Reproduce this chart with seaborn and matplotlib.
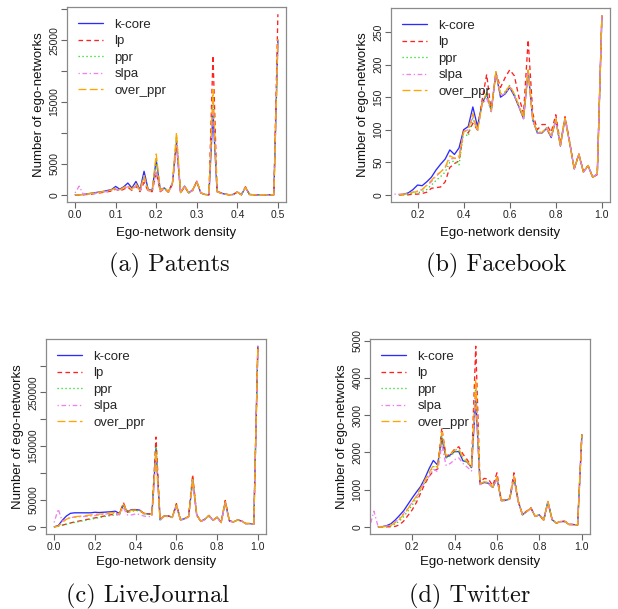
import numpy as np
import pandas as pd
import matplotlib
matplotlib.use("Agg")
import matplotlib.pyplot as plt
import seaborn as sns

sns.set_style("white")
plt.rcParams['font.family'] = ['Liberation Sans', 'DejaVu Sans']
plt.rcParams['axes.unicode_minus'] = False

NA = np.nan
methods = ['k-core', 'lp', 'ppr', 'slpa', 'over_ppr']

# ---------------- (a) Patents ----------------
patents_density = [0.00, 0.01, 0.02, 0.03, 0.04, 0.05, 0.06, 0.07, 0.08, 0.09,
                   0.10, 0.11, 0.12, 0.13, 0.14, 0.15, 0.16, 0.17, 0.18, 0.19,
                   0.20, 0.21, 0.22, 0.23, 0.24, 0.25, 0.26, 0.27, 0.28, 0.29,
                   0.30, 0.31, 0.32, 0.33, 0.34, 0.35, 0.36, 0.37, 0.38, 0.39,
                   0.40, 0.41, 0.42, 0.43, 0.44, 0.45, 0.46, 0.47, 0.48, 0.49,
                   0.50]
patents_kcore = [0, 0, 50, 150, 250, 350, 450, 550, 700, 850,
                 1350, 900, 1300, 1900, 1100, 2150, 800, 3800, 900, 700,
                 5700, 800, 1100, 500, 1900, 8400, 400, 1400, 300, 800,
                 2100, 300, 50, 0, 13300, 500, 250, 100, 0, 50,
                 450, 0, 1200, 50, 0, 0, 0, 0, 0, 0,
                 25000]
patents_lp = [0, 0, 0, 50, 100, 200, 300, 400, 500, 600,
              900, 600, 900, 1200, 700, 1400, 500, 2000, 600, 500,
              3600, 500, 1000, 400, 1700, 8800, 300, 1300, 300, 700,
              2200, 300, 50, 0, 22500, 600, 300, 100, 0, 50,
              450, 0, 1300, 50, 0, 0, 0, 0, 0, 0,
              29200]
patents_ppr = [0, 0, 20, 100, 200, 300, 400, 500, 600, 700,
               1000, 700, 1100, 1400, 800, 1700, 600, 3000, 700, 600,
               5400, 700, 1100, 450, 1800, 9500, 350, 1400, 300, 800,
               2100, 300, 50, 0, 16000, 500, 250, 100, 0, 50,
               450, 0, 1200, 50, 0, 0, 0, 0, 0, 0,
               25000]
patents_slpa = [300, 1400, 100, 100, 150, 250, 350, 450, 550, 650,
                950, 650, 1000, 1300, 750, 1500, 550, 2500, 650, 550,
                3700, 600, 1000, 400, 1700, 8000, 300, 1300, 300, 700,
                2100, 300, 50, 0, 15000, 500, 250, 100, 0, 50,
                450, 0, 1200, 50, 0, 0, 0, 0, 0, 0,
                25000]
patents_over_ppr = [0, 0, 30, 120, 220, 320, 420, 520, 650, 800,
                    1100, 800, 1200, 1500, 900, 1800, 700, 3100, 800, 650,
                    6600, 700, 1200, 450, 1900, 10100, 350, 1500, 300, 800,
                    2200, 300, 50, 0, 17000, 500, 250, 100, 0, 50,
                    450, 0, 1200, 50, 0, 0, 0, 0, 0, 0,
                    25200]

# ---------------- (b) Facebook ----------------
facebook_density = [0.10, 0.12, 0.14, 0.16, 0.18, 0.20, 0.22, 0.24, 0.26, 0.28,
                    0.30, 0.32, 0.34, 0.36, 0.38, 0.40, 0.42, 0.44, 0.46, 0.48,
                    0.50, 0.52, 0.54, 0.56, 0.58, 0.60, 0.62, 0.64, 0.66, 0.68,
                    0.70, 0.72, 0.74, 0.76, 0.78, 0.80, 0.82, 0.84, 0.86, 0.88,
                    0.90, 0.92, 0.94, 0.96, 0.98, 1.00]
facebook_kcore = [NA, 0, 1, 3, 8, 15, 14, 20, 27, 38, 47, 55, 69, 62, 72, 100, 105, 135, 105, 140,
                  155, 130, 188, 150, 155, 165, 152, 135, 117, 190, 115, 95, 95, 102, 88, 115,
                  75, 118, 80, 40, 62, 35, 45, 27, 32, 275]
facebook_lp = [NA, 0, 0, 0, 1, 1, 2, 4, 10, 11, 12, 20, 42, 48, 52, 98, 95, 110, 100, 145,
               185, 128, 187, 165, 180, 192, 183, 150, 125, 238, 125, 100, 108, 108, 96, 123,
               78, 120, 82, 40, 63, 36, 45, 27, 31, 276]
facebook_ppr = [NA, 0, 0, 1, 2, 3, 5, 8, 15, 22, 28, 35, 50, 52, 46, 95, 90, 118, 98, 140,
                155, 128, 189, 155, 158, 168, 155, 137, 118, 192, 116, 96, 96, 103, 90, 116,
                76, 118, 80, 40, 62, 35, 45, 27, 32, 276]
facebook_slpa = [1, 1, 1, 2, 4, 6, 8, 14, 20, 28, 35, 42, 55, 56, 60, 97, 100, 120, 98, 138,
                 148, 128, 188, 152, 156, 166, 153, 136, 117, 190, 115, 95, 95, 102, 88, 115,
                 75, 118, 80, 40, 62, 35, 45, 27, 32, 275]
facebook_over_ppr = [NA, 0, 1, 2, 4, 5, 8, 15, 22, 30, 35, 42, 60, 56, 56, 97, 100, 125, 98, 140,
                     157, 130, 189, 155, 158, 168, 155, 137, 118, 192, 116, 96, 96, 103, 90, 116,
                     76, 118, 80, 40, 62, 35, 45, 27, 32, 276]

# ---------------- (c) LiveJournal ----------------
lj_density = [0.00, 0.02, 0.04, 0.06, 0.08, 0.10, 0.12, 0.14, 0.16, 0.18,
              0.20, 0.22, 0.24, 0.26, 0.28, 0.30, 0.32, 0.34, 0.36, 0.38,
              0.40, 0.42, 0.44, 0.46, 0.48, 0.50, 0.52, 0.54, 0.56, 0.58,
              0.60, 0.62, 0.64, 0.66, 0.68, 0.70, 0.72, 0.74, 0.76, 0.78,
              0.80, 0.82, 0.84, 0.86, 0.88, 0.90, 0.92, 0.94, 0.96, 0.98,
              1.00]
lj_kcore = [0, 2000, 12000, 20000, 25000, 26000, 26000, 26000, 26000, 26000,
            27000, 26500, 27000, 27500, 28000, 29000, 25000, 40000, 28000, 32000,
            32000, 31000, 25000, 24000, 23000, 145000, 13000, 20000, 20000, 18000,
            40000, 13000, 15000, 19000, 87000, 22000, 10000, 14000, 21000, 12000,
            18000, 8000, 47000, 11000, 9000, 12500, 11000, 6000, 6000, 5000,
            336000]
lj_lp = [0, 1000, 3000, 5000, 7000, 9000, 10500, 12000, 13500, 15000,
         16500, 18000, 19500, 21000, 22500, 24000, 23000, 45000, 27000, 30000,
         31000, 30000, 25000, 24000, 23000, 167000, 13000, 20000, 20000, 18000,
         43000, 13000, 15000, 19000, 97000, 22000, 10000, 14000, 21000, 12000,
         18000, 8000, 49000, 11000, 9000, 12500, 11000, 6000, 6000, 5000,
         336000]
lj_ppr = [0, 1000, 2500, 4500, 6500, 8000, 9500, 11000, 12500, 14000,
          15500, 17000, 18500, 20000, 21000, 22000, 22000, 40000, 26000, 29000,
          30000, 30000, 24000, 23000, 22000, 150000, 13000, 20000, 20000, 18000,
          41000, 13000, 15000, 19000, 90000, 22000, 10000, 14000, 21000, 12000,
          18000, 8000, 47000, 11000, 9000, 12500, 11000, 6000, 6000, 5000,
          336000]
lj_slpa = [8000, 33000, 10000, 15000, 17000, 18000, 18500, 19000, 19500, 20000,
           21000, 22000, 23000, 24000, 25000, 24000, 22000, 35000, 22000, 22000,
           24000, 23000, 20000, 19000, 19000, 130000, 12000, 19000, 19000, 17000,
           38000, 12000, 14000, 18000, 82000, 21000, 10000, 13000, 20000, 12000,
           17000, 8000, 45000, 10000, 9000, 12000, 11000, 6000, 6000, 5000,
           336000]
lj_over_ppr = [0, 1000, 8000, 14000, 17000, 18500, 19500, 20000, 21000, 22000,
               23000, 23500, 24000, 25000, 26000, 27000, 24000, 42000, 27000, 31000,
               31000, 30000, 25000, 24000, 23000, 140000, 13000, 20000, 20000, 18000,
               40000, 13000, 15000, 19000, 88000, 22000, 10000, 14000, 21000, 12000,
               18000, 8000, 47000, 11000, 9000, 12500, 11000, 6000, 6000, 5000,
               336000]

# ---------------- (d) Twitter ----------------
tw_density = [0.00, 0.02, 0.04, 0.06, 0.08, 0.10, 0.12, 0.14, 0.16, 0.18,
              0.20, 0.22, 0.24, 0.26, 0.28, 0.30, 0.32, 0.34, 0.36, 0.38,
              0.40, 0.42, 0.44, 0.46, 0.48, 0.50, 0.52, 0.54, 0.56, 0.58,
              0.60, 0.62, 0.64, 0.66, 0.68, 0.70, 0.72, 0.74, 0.76, 0.78,
              0.80, 0.82, 0.84, 0.86, 0.88, 0.90, 0.92, 0.94, 0.96, 0.98,
              1.00]
tw_kcore = [NA, NA, 0, 5, 30, 80, 180, 300, 430, 600,
            770, 930, 1080, 1300, 1560, 1780, 1660, 2380, 1860, 1930,
            2020, 2020, 1770, 1740, 1590, 3450, 1150, 1190, 1170, 1055,
            1300, 700, 710, 750, 1320, 680, 320, 410, 500, 280,
            320, 180, 680, 190, 100, 140, 140, 60, 60, 45,
            2470]
tw_lp = [NA, NA, 0, 0, 0, 0, 10, 50, 150, 300,
         450, 650, 900, 1150, 1350, 1500, 1550, 2650, 1900, 1950,
         2080, 2150, 1950, 1800, 1620, 4850, 1200, 1300, 1280, 1100,
         1450, 720, 720, 770, 1450, 700, 340, 420, 510, 280,
         330, 160, 660, 190, 100, 150, 150, 70, 60, 45,
         2480]
tw_ppr = [NA, NA, 0, 0, 5, 20, 80, 150, 270, 420,
          580, 750, 980, 1200, 1420, 1620, 1580, 2450, 1850, 1900,
          2000, 2050, 1800, 1720, 1580, 3800, 1150, 1200, 1180, 1060,
          1320, 700, 710, 750, 1330, 680, 320, 410, 500, 280,
          320, 180, 670, 190, 100, 140, 140, 60, 60, 45,
          2470]
tw_slpa = [0, 420, 0, 0, 20, 60, 130, 230, 360, 500,
           650, 800, 1000, 1200, 1350, 1550, 1480, 2200, 1650, 1700,
           1800, 1850, 1700, 1600, 1500, 3500, 1130, 1180, 1160, 1040,
           1280, 690, 700, 740, 1300, 670, 320, 400, 490, 280,
           320, 180, 650, 190, 100, 140, 140, 60, 60, 45,
           2450]
tw_over_ppr = [NA, NA, 0, 0, 10, 40, 110, 200, 330, 480,
               650, 820, 1030, 1250, 1450, 1650, 1600, 2550, 1900, 1950,
               2050, 2100, 1850, 1750, 1600, 3950, 1160, 1210, 1190, 1070,
               1330, 710, 720, 760, 1350, 690, 330, 410, 500, 280,
               320, 180, 680, 190, 100, 140, 140, 60, 60, 45,
               2480]

# tick values / labels
patents_xticks = [0.0, 0.1, 0.2, 0.3, 0.4, 0.5]
patents_yticks = [0, 5000, 10000, 15000, 20000, 25000, 30000]
patents_ylabels = ['0', '5000', '', '15000', '', '25000', '']
facebook_xticks = [0.2, 0.4, 0.6, 0.8, 1.0]
facebook_yticks = [0, 50, 100, 150, 200, 250]
facebook_ylabels = ['0', '50', '100', '150', '200', '250']
lj_xticks = [0.0, 0.2, 0.4, 0.6, 0.8, 1.0]
lj_yticks = [0, 50000, 100000, 150000, 200000, 250000, 300000]
lj_ylabels = ['0', '50000', '', '150000', '', '250000', '']
tw_xticks = [0.2, 0.4, 0.6, 0.8, 1.0]
tw_yticks = [0, 1000, 2000, 3000, 4000, 5000]
tw_ylabels = ['0', '1000', '2000', '3000', '4000', '5000']

# ---------------- styling ----------------
colors = {'k-core': '#2b2bff', 'lp': '#ff2020', 'ppr': '#22dd22',
          'slpa': '#ee82ee', 'over_ppr': '#ffa500'}
dashes = {'k-core': '-', 'lp': (0, (3.5, 2.5)), 'ppr': (0, (1, 2)),
          'slpa': (0, (1, 2, 3.5, 2)), 'over_ppr': (0, (6, 2.5))}

W, H = 618, 609
fig = plt.figure(figsize=(W / 100, H / 100), dpi=100)

panels = [
    dict(box=(67, 7, 219, 195), x=patents_density,
         ys=[patents_kcore, patents_lp, patents_ppr, patents_slpa, patents_over_ppr],
         xt=patents_xticks, yt=patents_yticks, yl=patents_ylabels,
         caption='(a) Patents', cap=(169, 265), xpad=5),
    dict(box=(391, 8, 219, 194), x=facebook_density,
         ys=[facebook_kcore, facebook_lp, facebook_ppr, facebook_slpa, facebook_over_ppr],
         xt=facebook_xticks, yt=facebook_yticks, yl=facebook_ylabels,
         caption='(b) Facebook', cap=(496, 265), xpad=5),
    dict(box=(46, 339, 220, 195), x=lj_density,
         ys=[lj_kcore, lj_lp, lj_ppr, lj_slpa, lj_over_ppr],
         xt=lj_xticks, yt=lj_yticks, yl=lj_ylabels,
         caption='(c) LiveJournal', cap=(148, 596), xpad=3.5),
    dict(box=(370, 339, 220, 195), x=tw_density,
         ys=[tw_kcore, tw_lp, tw_ppr, tw_slpa, tw_over_ppr],
         xt=tw_xticks, yt=tw_yticks, yl=tw_ylabels,
         caption='(d) Twitter', cap=(470, 596), xpad=3.5),
]

for p in panels:
    l, t, w, h = p['box']
    ax = fig.add_axes([l / W, 1 - (t + h) / H, w / W, h / H])
    x = np.array(p['x'], dtype=float)
    for name, y in zip(methods, p['ys']):
        df = pd.DataFrame({'density': x, 'count': np.array(y, dtype=float)}).dropna()
        sns.lineplot(data=df, x='density', y='count', ax=ax, color=colors[name],
                     linestyle=dashes[name], linewidth=0.95, estimator=None,
                     errorbar=None, label=name, sort=False)
    # R-style limits: range of the first series (x), all series (y) + 4 %
    k = np.array(p['ys'][0], dtype=float)
    xk = x[~np.isnan(k)]
    xr = xk.max() - xk.min()
    ax.set_xlim(xk.min() - 0.04 * xr, xk.max() + 0.04 * xr)
    allv = np.concatenate([np.array(v, dtype=float) for v in p['ys']])
    ymin, ymax = 0.0, np.nanmax(allv)
    yr = ymax - ymin
    ax.set_ylim(ymin - 0.04 * yr, ymax + 0.04 * yr)

    ax.set_xticks(p['xt'])
    ax.set_xticklabels([f'{v:.1f}' for v in p['xt']])
    ax.set_yticks(p['yt'])
    ax.set_yticklabels(p['yl'], rotation=90, va='center')

    for s in ax.spines.values():
        s.set_visible(True)
        s.set_color('#8a8a8a')
        s.set_linewidth(0.9)
    ax.tick_params(axis='both', which='major', direction='out', length=4,
                   width=0.8, color='#666666', labelsize=7.5, pad=1.5,
                   labelcolor='#222222', bottom=True, left=True, top=False, right=False)
    ax.grid(False)
    ax.set_xlabel('Ego-network density', fontsize=9.5, labelpad=p['xpad'], color='#111111')
    ax.set_ylabel('Number of ego-networks', fontsize=9.5, labelpad=3, color='#111111')

    ax.legend(loc='upper left', bbox_to_anchor=(0.05, 0.94), frameon=False,
              fontsize=9.5, handlelength=1.9, handletextpad=0.85,
              labelspacing=0.32, borderaxespad=0, borderpad=0.0)

    cx, cy = p['cap']
    fig.text(cx / W, 1 - cy / H, p['caption'], ha='center', va='center',
             fontfamily='cmr10', fontsize=17.5, color='#111111')

fig.savefig('out.png', dpi=100, facecolor='white')
